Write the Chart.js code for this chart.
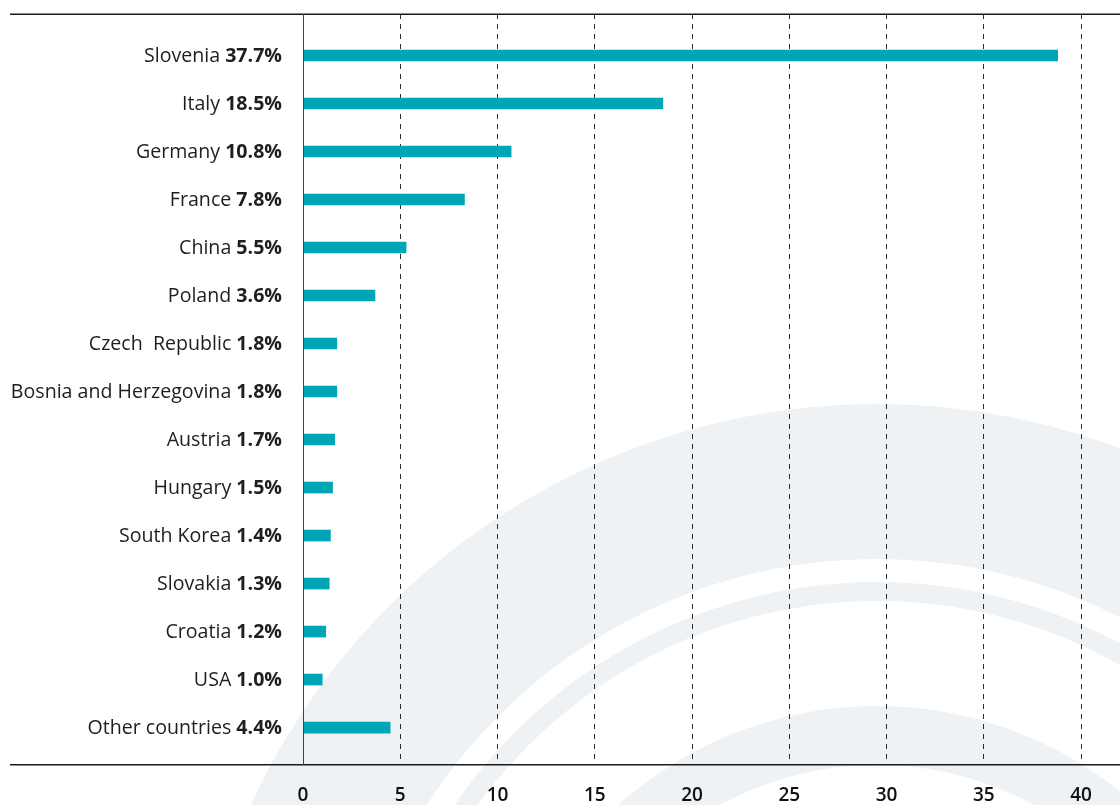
<!DOCTYPE html>
<html>
<head>
<meta charset="utf-8">
<script src="https://cdn.jsdelivr.net/npm/chart.js@4"></script>
<style>
  html, body { margin: 0; padding: 0; background: #ffffff; }
  #wrap { width: 1120px; height: 805px; }
</style>
</head>
<body>
<div id="wrap"><canvas id="c" width="1120" height="805"></canvas></div>
<script>
// ---- data ----
const countries = ["Slovenia", "Italy", "Germany", "France", "China", "Poland",
  "Czech  Republic", "Bosnia and Herzegovina", "Austria", "Hungary",
  "South Korea", "Slovakia", "Croatia", "USA", "Other countries"];
const shareLabels = ["37.7%", "18.5%", "10.8%", "7.8%", "5.5%", "3.6%", "1.8%", "1.8%",
  "1.7%", "1.5%", "1.4%", "1.3%", "1.2%", "1.0%", "4.4%"];
const barValues = [38.8, 18.5, 10.7, 8.3, 5.3, 3.7, 1.74, 1.74, 1.63, 1.52, 1.41, 1.35, 1.17, 0.99, 4.48];
const xTicks = [0, 5, 10, 15, 20, 25, 30, 35, 40];

const FONT = '"Open Sans", "Noto Sans", sans-serif';

const backgroundArcs = {
  id: 'backgroundArcs',
  beforeDraw(chart) {
    const ctx = chart.ctx;
    const cx = 877, cy = 1094;
    const bands = [[690, 535], [512, 493], [388, 329]];
    ctx.save();
    ctx.fillStyle = '#eef2f5';
    bands.forEach(([ro, ri]) => {
      ctx.beginPath();
      ctx.arc(cx, cy, ro, 0, Math.PI * 2, false);
      ctx.arc(cx, cy, ri, 0, Math.PI * 2, true);
      ctx.closePath();
      ctx.fill();
    });
    ctx.restore();
  }
};

const frameAndLabels = {
  id: 'frameAndLabels',
  afterDraw(chart) {
    const ctx = chart.ctx;
    const area = chart.chartArea;
    const yScale = chart.scales.y;
    const xScale = chart.scales.x;
    ctx.save();
    // top and bottom rules
    ctx.strokeStyle = '#1a1a1a';
    ctx.lineWidth = 1.5;
    ctx.beginPath();
    ctx.moveTo(10, area.top + 0.25); ctx.lineTo(chart.width, area.top + 0.25);
    ctx.moveTo(10, area.bottom - 0.25); ctx.lineTo(chart.width, area.bottom - 0.25);
    ctx.stroke();
    // zero axis line
    const x0 = Math.round(xScale.getPixelForValue(0)) + 0.5;
    ctx.strokeStyle = '#444444';
    ctx.lineWidth = 1;
    ctx.beginPath();
    ctx.moveTo(x0, area.top); ctx.lineTo(x0, area.bottom);
    ctx.stroke();
    // category labels (name regular + share bold)
    const rightX = x0 - 21.5;
    ctx.textBaseline = 'middle';
    ctx.textAlign = 'right';
    ctx.fillStyle = '#1e1e1e';
    countries.forEach((name, i) => {
      const y = yScale.getPixelForValue(i) + 1;
      ctx.font = 'bold 19.6px ' + FONT;
      const bw = ctx.measureText(shareLabels[i]).width;
      ctx.fillText(shareLabels[i], rightX, y);
      ctx.font = '19.6px ' + FONT;
      ctx.fillText(name + ' ', rightX - bw, y);
    });
    ctx.restore();
  }
};

new Chart(document.getElementById('c'), {
  type: 'bar',
  data: {
    datasets: [{
      data: barValues.map((v, i) => ({ x: v, y: i })),
      backgroundColor: '#00a6b6',
      borderWidth: 0,
      barThickness: 11
    }]
  },
  options: {
    indexAxis: 'y',
    responsive: false,
    devicePixelRatio: 1,
    animation: false,
    layout: { padding: { left: 303, right: 39, top: 14, bottom: 0 } },
    plugins: { legend: { display: false }, tooltip: { enabled: false } },
    scales: {
      y: {
        type: 'linear',
        display: false,
        reverse: true,
        offset: false,
        min: -0.865,
        max: 14.78
      },
      x: {
        type: 'linear',
        position: 'bottom',
        min: 0,
        max: 40,
        afterBuildTicks(scale) { scale.ticks = xTicks.map(v => ({ value: v })); },
        afterFit(scale) { scale.height = 40; },
        grid: {
          drawTicks: false,
          color: c => (c.tick && c.tick.value === 0) ? 'rgba(0,0,0,0)' : '#2a2a2a',
          lineWidth: 1
        },
        border: {
          display: false,
          dash: c => (c.tick && c.tick.value !== 0) ? [5, 5] : []
        },
        ticks: {
          padding: 19,
          color: '#111111',
          font: { family: FONT, size: 19, weight: '600' }
        }
      }
    }
  },
  plugins: [backgroundArcs, frameAndLabels]
});
</script>
</body>
</html>
